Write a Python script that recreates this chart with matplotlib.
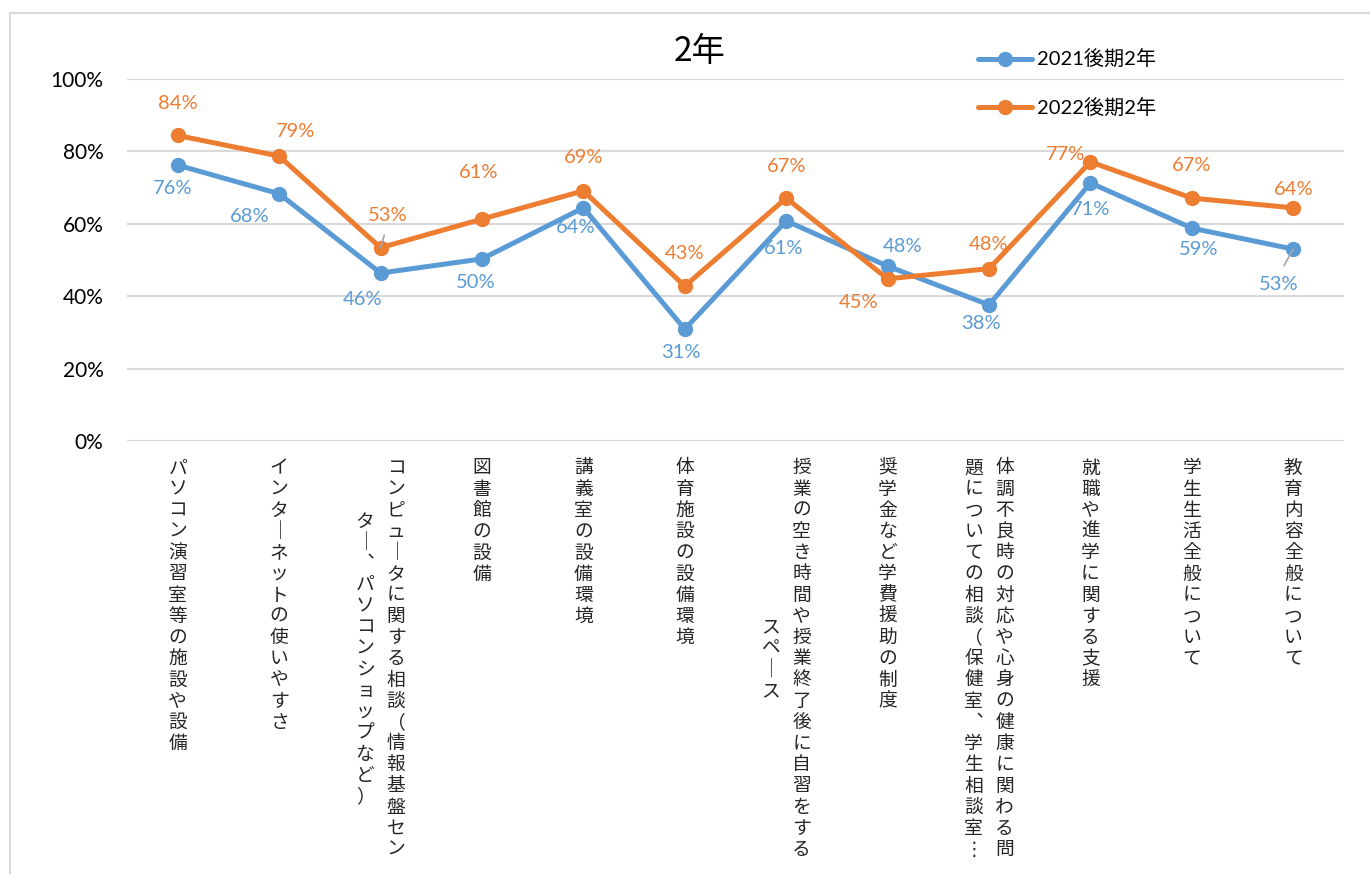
import numpy as np
import matplotlib
matplotlib.use('Agg')
import matplotlib.pyplot as plt
from matplotlib.patches import Rectangle

plt.rcParams['font.family'] = ['Lato', 'Noto Sans CJK JP', 'DejaVu Sans']

# data
categories = [
    'パソコン演習室等の施設や設備',
    'インターネットの使いやすさ',
    'コンピュータに関する相談（情報基盤センター、パソコンショップなど）',
    '図書館の設備',
    '講義室の設備環境',
    '体育施設の設備環境',
    '授業の空き時間や授業終了後に自習をするスペース',
    '奨学金など学費援助の制度',
    '体調不良時の対応や心身の健康に関わる問題についての相談（保健室、学生相談室…',
    '就職や進学に関する支援',
    '学生生活全般について',
    '教育内容全般について',
]
series_names = ['2021後期2年', '2022後期2年']
v2021 = [0.762, 0.683, 0.464, 0.503, 0.644, 0.309, 0.608, 0.483, 0.376, 0.713, 0.588, 0.530]
v2022 = [0.844, 0.787, 0.534, 0.613, 0.691, 0.428, 0.671, 0.448, 0.476, 0.771, 0.671, 0.644]
yticks = [0, 0.2, 0.4, 0.6, 0.8, 1.0]

# label offsets in pixels (dx, dy up)
off2021 = [(-5, -23), (-29, -23), (-18, -26), (-6, -24), (-8, -20), (-4, -23),
           (-3, -28), (15, 20), (-8, -19), (0, -27), (7, -21), (-15, -35)]
off2022 = [(0, 32), (16, 25), (7, 32), (-3, 47), (0, 33), (0, 33),
           (0, 32), (-29, -24), (0, 24), (-25, 7), (0, 33), (0, 18)]
leaders2021 = [11]
leaders2022 = [2]

blue = '#5B9BD5'
orange = '#ED7D31'
grid = '#D9D9D9'

W, H = 1370, 874
fig = plt.figure(figsize=(W / 100, H / 100), dpi=100)
ax = fig.add_axes([127 / W, 1 - 441 / H, (1344 - 127) / W, (441 - 79) / H])

fig.patches.append(Rectangle((10 / W, -0.05), 1.1, (H - 13) / H + 0.05,
                             transform=fig.transFigure, fill=False,
                             edgecolor=grid, lw=1.5))

x = np.arange(len(categories))
l1, = ax.plot(x, v2021, color=blue, lw=3.6, marker='o', ms=10,
              solid_capstyle='round', label=series_names[0], zorder=2)
l2, = ax.plot(x, v2022, color=orange, lw=3.6, marker='o', ms=10,
              solid_capstyle='round', label=series_names[1], zorder=2.1)

ax.set_xlim(-0.5, len(categories) - 0.5)
ax.set_ylim(0, 1)
ax.set_yticks(yticks)
ax.set_yticklabels([f'{int(round(t * 100))}%' for t in yticks], fontsize=15)
ax.tick_params(axis='y', length=0, pad=17, colors='black')
ax.set_xticks([])
for s in ax.spines.values():
    s.set_visible(False)
ax.grid(axis='y', color=grid, lw=1.5)
ax.set_axisbelow(True)


def put_labels(vals, offs, color, leaders):
    for i, v in enumerate(vals):
        dx, dy = offs[i]
        txt = f'{int(round(v * 100))}%'
        if i in leaders:
            ax.annotate(txt, xy=(i, v), xytext=(dx, dy), textcoords='offset pixels',
                        ha='center', va='center', fontsize=14.5, color=color,
                        arrowprops=dict(arrowstyle='-', color='#A5A5A5', lw=1.2,
                                        relpos=(0.5, 0.0 if dy > 0 else 1.0),
                                        shrinkA=6, shrinkB=0), zorder=4)
        else:
            ax.annotate(txt, xy=(i, v), xytext=(dx, dy), textcoords='offset pixels',
                        ha='center', va='center', fontsize=14.5, color=color, zorder=4)


put_labels(v2021, off2021, blue, leaders2021)
put_labels(v2022, off2022, orange, leaders2022)

# vertical category labels (tategaki), 19 chars per column, right to left
vert = {'ー': '｜', '…': '⋮', '、': '︑'}
pitch = 21.2
col_pitch = 31
for i, lab in enumerate(categories):
    cols = [lab[k:k + 19] for k in range(0, len(lab), 19)]
    n = len(cols)
    mx = max(len(c) for c in cols)
    for j, col in enumerate(cols):
        xo = ((n - 1) / 2 - j) * col_pitch
        start = (mx - len(col)) / 2
        for k, ch in enumerate(col):
            yo = -(27 + (start + k) * pitch)
            ax.annotate(vert.get(ch, ch), xy=(i, 0), xycoords=('data', 'axes fraction'),
                        xytext=(xo, yo), textcoords='offset pixels',
                        ha='center', va='center', fontsize=13.5, color='#262626',
                        annotation_clip=False,
                        family=['Noto Sans CJK JP', 'DejaVu Sans'])

fig.text(700 / W, 1 - 52 / H, '2年', ha='center', va='center', fontsize=24,
         family=['Noto Sans CJK JP', 'DejaVu Sans'])

fig.legend(handles=[l1, l2], loc='upper left', bbox_to_anchor=(978 / W, 1 - 50 / H),
           frameon=False, fontsize=14.5, handlelength=2.7, labelspacing=1.45,
           handletextpad=0.25, borderaxespad=0, borderpad=0)

fig.savefig('out.png', dpi=100)
